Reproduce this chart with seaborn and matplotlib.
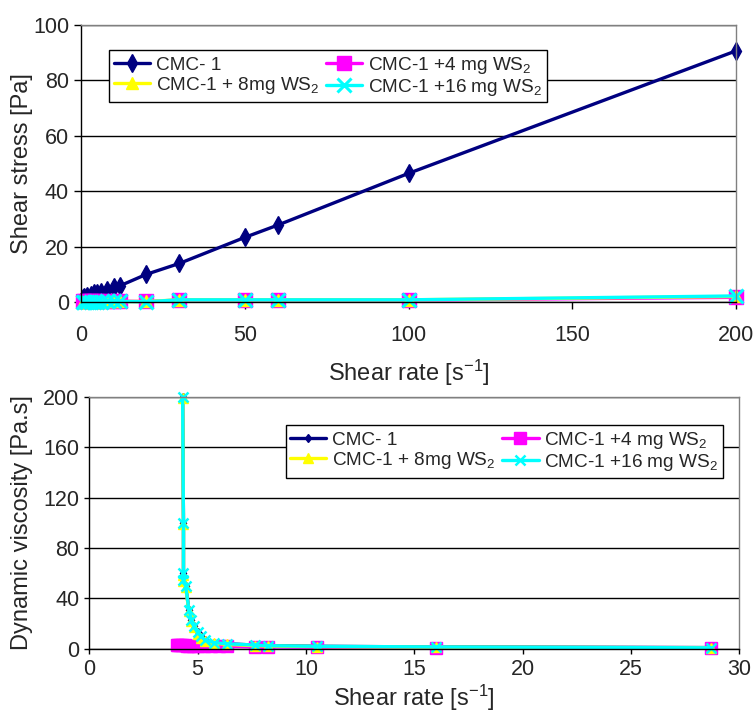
import matplotlib
matplotlib.use("Agg")
import matplotlib.pyplot as plt
import seaborn as sns

# --- data ---
# shear stress vs shear rate (top panel)
rate_top = [0.5, 1, 2, 3, 4, 5, 6, 8, 10, 12, 20, 30, 50, 60, 100, 200]
stress_cmc = [1.5, 2.0, 2.4, 2.8, 3.2, 3.5, 3.8, 4.3, 5.5, 6.0, 10.1, 14.0, 23.4, 27.8, 46.5, 90.7]
stress_4mg = [0.3, 0.3, 0.3, 0.3, 0.3, 0.3, 0.3, 0.3, 0.4, 0.4, 0.3, 0.8, 0.8, 0.8, 0.8, 1.8]
stress_8mg = [0.2, 0.2, 0.2, 0.2, 0.2, 0.2, 0.2, 0.3, 0.3, 0.3, 0.3, 0.9, 0.9, 0.9, 0.9, 2.1]
stress_16mg = [0.2, 0.2, 0.2, 0.2, 0.2, 0.2, 0.2, 0.3, 0.3, 0.3, 0.2, 0.9, 0.9, 0.9, 0.9, 2.3]

# dynamic viscosity vs shear rate (bottom panel)
rate_cmc = [4.31, 4.35, 4.35, 4.35, 4.45, 4.6, 4.72, 4.82, 5.0, 5.15, 5.35, 5.75, 6.35, 7.65, 8.25, 10.5, 16.0, 28.7]
visc_cmc = [200, 100, 60, 55, 50, 31, 23, 18, 13, 10, 7, 5, 4, 3, 2.5, 2, 1.5, 1.0]
rate_4mg = [4.05, 4.1, 4.2, 4.3, 4.4, 4.5, 4.6, 4.8, 5.0, 5.3, 5.6, 6.0, 6.35, 7.65, 8.25, 10.5, 16.0, 28.7]
visc_4mg = [3, 3, 3, 3, 3, 2.5, 2.5, 2.5, 2, 2, 2, 2, 2, 1.5, 1.5, 1.2, 1.0, 0.8]
visc_8mg = [199, 99, 59, 54, 49, 30, 22, 17, 12, 9, 6, 4.5, 3.5, 2.5, 2.2, 1.8, 1.3, 0.8]
visc_16mg = [200, 100, 60, 55, 50, 31, 23, 18, 13, 10, 7, 5, 4, 3, 2.5, 2, 1.5, 0.8]

labels = ["CMC- 1", "CMC-1 +4 mg WS$_2$", "CMC-1 + 8mg WS$_2$", "CMC-1 +16 mg WS$_2$"]
colors = ["#000080", "#FF00FF", "#FFFF00", "#00FFFF"]
markers = ["d", "s", "^", "x"]

sns.set_theme(style="white")
plt.rcParams["font.family"] = ["Liberation Sans", "DejaVu Sans"]
plt.rcParams["mathtext.fontset"] = "custom"
plt.rcParams["mathtext.rm"] = "Liberation Sans"
plt.rcParams["mathtext.it"] = "Liberation Sans:italic"
plt.rcParams["mathtext.default"] = "regular"

fig = plt.figure(figsize=(7.56, 7.13), dpi=100)
ax1 = fig.add_axes([0.107, 0.576, 0.867, 0.389])
ax2 = fig.add_axes([0.118, 0.090, 0.860, 0.353])


def style_axes(ax, tick_len, xpad):
    ax.yaxis.grid(True, color="black", lw=1)
    ax.xaxis.grid(False)
    for side in ["top", "right"]:
        ax.spines[side].set_color("#808080")
        ax.spines[side].set_linewidth(1)
    for side in ["left", "bottom"]:
        ax.spines[side].set_color("black")
        ax.spines[side].set_linewidth(1)
    ax.tick_params(axis="both", which="major", direction="out", length=tick_len,
                   width=1, color="black", labelsize=15.5, left=True, bottom=True)
    ax.tick_params(axis="x", pad=xpad)
    ax.set_axisbelow(True)


# --- top: shear stress ---
top_series = [stress_cmc, stress_4mg, stress_8mg, stress_16mg]
top_ms = [9, 10, 9, 10]
for ys, lab, c, m, ms in zip(top_series, labels, colors, markers, top_ms):
    sns.lineplot(x=rate_top, y=ys, ax=ax1, color=c, marker=m, markersize=ms,
                 markeredgecolor=c, markeredgewidth=2.2 if m == "x" else 1,
                 lw=2.4, label=lab, estimator=None, sort=False, clip_on=False)

ax1.set_xlim(0, 200)
ax1.set_ylim(0, 100)
ax1.set_xticks([0, 50, 100, 150, 200])
ax1.set_yticks([0, 20, 40, 60, 80, 100])
style_axes(ax1, 5, 11.5)
ax1.set_xlabel("Shear rate [s$^{-1}$]", fontsize=17)
ax1.set_ylabel("Shear stress [Pa]", fontsize=17)
ax1.xaxis.set_label_coords(0.5, -0.20)
ax1.yaxis.set_label_coords(-0.073, 0.5)

# --- bottom: dynamic viscosity ---
bot_x = [rate_cmc, rate_4mg, rate_cmc, rate_cmc]
bot_series = [visc_cmc, visc_4mg, visc_8mg, visc_16mg]
bot_ms = [4.5, 8, 6.5, 7.5]
for xs, ys, lab, c, m, ms in zip(bot_x, bot_series, labels, colors, markers, bot_ms):
    sns.lineplot(x=xs, y=ys, ax=ax2, color=c, marker=m, markersize=ms,
                 markeredgecolor=c, markeredgewidth=1.8 if m == "x" else 1,
                 lw=2.4, label=lab, estimator=None, sort=False, clip_on=False)

ax2.set_xlim(0, 30)
ax2.set_ylim(0, 200)
ax2.set_xticks([0, 5, 10, 15, 20, 25, 30])
ax2.set_yticks([0, 40, 80, 120, 160, 200])
style_axes(ax2, 3.5, 4)
ax2.set_xlabel("Shear rate [s$^{-1}$]", fontsize=17)
ax2.set_ylabel("Dynamic viscosity [Pa.s]", fontsize=17)
ax2.xaxis.set_label_coords(0.5, -0.135)
ax2.yaxis.set_label_coords(-0.086, 0.5)

# legends: two columns, row 1 = CMC-1 / 4 mg, row 2 = 8 mg / 16 mg
for ax, anchor, loc in [(ax1, (0.043, 0.91), "upper left"),
                        (ax2, (0.975, 0.889), "upper right")]:
    h, l = ax.get_legend_handles_labels()
    order = [0, 2, 1, 3]
    leg = ax.legend([h[i] for i in order], [l[i] for i in order], ncol=2,
                    loc=loc, bbox_to_anchor=anchor, borderaxespad=0,
                    fontsize=13.7, frameon=True, fancybox=False, framealpha=1,
                    edgecolor="black", handlelength=1.9, handletextpad=0.3,
                    columnspacing=0.35, labelspacing=0.05, borderpad=0.25)
    leg.get_frame().set_linewidth(1)

fig.savefig("out.png", dpi=100)
